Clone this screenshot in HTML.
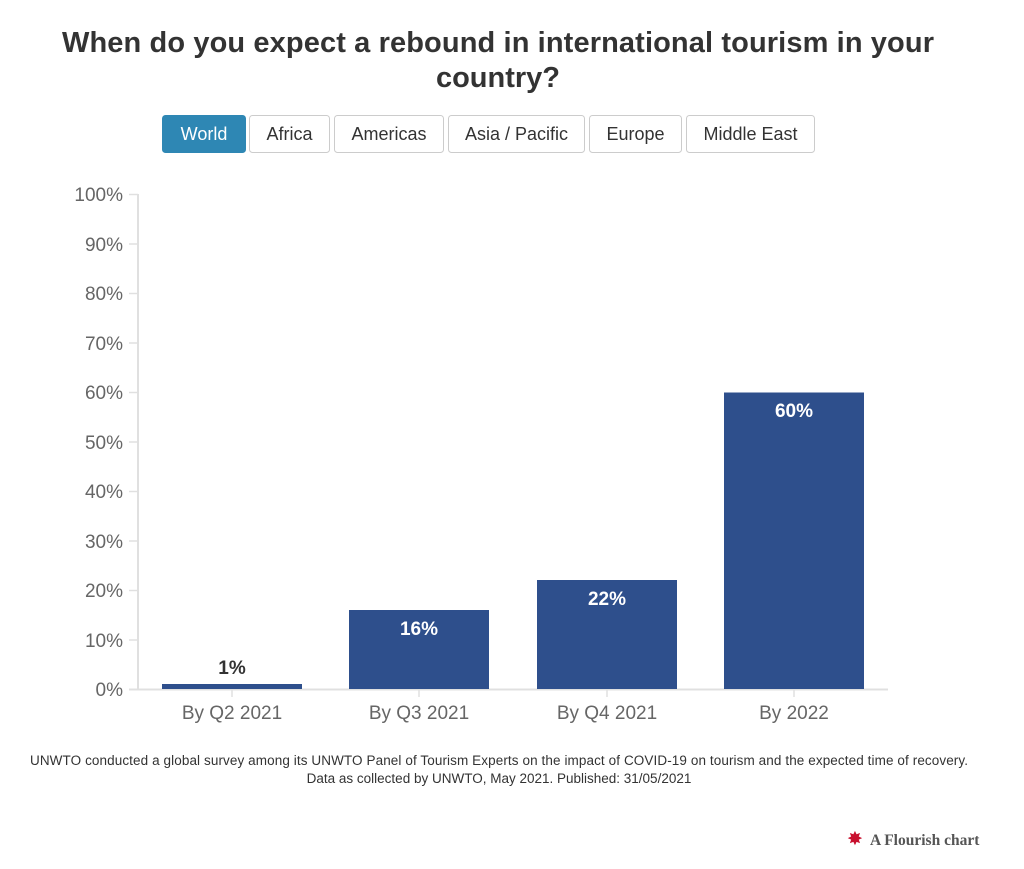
<!DOCTYPE html>
<html><head><style>
body{margin:0;background:#fff;width:1024px;height:864px;overflow:hidden;font-family:"Liberation Sans",sans-serif;}
</style></head><body>
<svg width="1024" height="864" xmlns="http://www.w3.org/2000/svg" font-family="Liberation Sans, sans-serif">
<text x="498" y="52" text-anchor="middle" font-size="29" font-weight="bold" fill="#333" textLength="872">When do you expect a rebound in international tourism in your</text>
<text x="498" y="87" text-anchor="middle" font-size="29" font-weight="bold" fill="#333">country?</text>
<g font-size="18" text-anchor="middle">
<rect x="162.5" y="115.5" width="83" height="37" rx="3" fill="#2e87b4" stroke="#2e87b4"/>
<text x="204" y="140" fill="#fff">World</text>
<rect x="249.5" y="115.5" width="80" height="37" rx="3" fill="#fff" stroke="#ccc"/>
<text x="289.5" y="140" fill="#333">Africa</text>
<rect x="334.5" y="115.5" width="109" height="37" rx="3" fill="#fff" stroke="#ccc"/>
<text x="389" y="140" fill="#333">Americas</text>
<rect x="448.5" y="115.5" width="136" height="37" rx="3" fill="#fff" stroke="#ccc"/>
<text x="516.5" y="140" fill="#333">Asia / Pacific</text>
<rect x="589.5" y="115.5" width="92" height="37" rx="3" fill="#fff" stroke="#ccc"/>
<text x="635.5" y="140" fill="#333">Europe</text>
<rect x="686.5" y="115.5" width="128" height="37" rx="3" fill="#fff" stroke="#ccc"/>
<text x="750.5" y="140" fill="#333">Middle East</text>
</g>
<line x1="138" y1="194" x2="138" y2="689" stroke="#e0e0e0" stroke-width="2"/>
<g stroke="#e0e0e0" stroke-width="1.5">
<line x1="129" y1="194.5" x2="138" y2="194.5"/><line x1="129" y1="244" x2="138" y2="244"/>
<line x1="129" y1="293.5" x2="138" y2="293.5"/><line x1="129" y1="343" x2="138" y2="343"/>
<line x1="129" y1="392.5" x2="138" y2="392.5"/><line x1="129" y1="442" x2="138" y2="442"/>
<line x1="129" y1="491.5" x2="138" y2="491.5"/><line x1="129" y1="541" x2="138" y2="541"/>
<line x1="129" y1="590.5" x2="138" y2="590.5"/><line x1="129" y1="640" x2="138" y2="640"/>
<line x1="232" y1="689" x2="232" y2="697"/><line x1="419" y1="689" x2="419" y2="697"/>
<line x1="607" y1="689" x2="607" y2="697"/><line x1="794" y1="689" x2="794" y2="697"/>
</g>
<line x1="129" y1="689.5" x2="888" y2="689.5" stroke="#e0e0e0" stroke-width="2"/>
<g font-size="19" fill="#666" text-anchor="end">
<text x="123" y="201">100%</text><text x="123" y="251">90%</text><text x="123" y="300">80%</text>
<text x="123" y="350">70%</text><text x="123" y="399">60%</text><text x="123" y="449">50%</text>
<text x="123" y="498">40%</text><text x="123" y="548">30%</text><text x="123" y="597">20%</text>
<text x="123" y="647">10%</text><text x="123" y="696">0%</text>
</g>
<g fill="#2e4f8c">
<rect x="162" y="684" width="140" height="5"/>
<rect x="349" y="610" width="140" height="79"/>
<rect x="537" y="580" width="140" height="109"/>
<rect x="724" y="392.5" width="140" height="296.5"/>
</g>
<g font-size="19" font-weight="bold" text-anchor="middle">
<text x="232" y="674" fill="#333">1%</text>
<text x="419" y="635" fill="#fff">16%</text>
<text x="607" y="605" fill="#fff">22%</text>
<text x="794" y="417" fill="#fff">60%</text>
</g>
<g font-size="19" fill="#666" text-anchor="middle">
<text x="232" y="719">By Q2 2021</text><text x="419" y="719">By Q3 2021</text>
<text x="607" y="719">By Q4 2021</text><text x="794" y="719">By 2022</text>
</g>
<g font-size="13.5" fill="#333" text-anchor="middle">
<text x="499" y="765" textLength="938">UNWTO conducted a global survey among its UNWTO Panel of Tourism Experts on the impact of COVID-19 on tourism and the expected time of recovery.</text>
<text x="499" y="783">Data as collected by UNWTO, May 2021. Published: 31/05/2021</text>
</g>
<text x="847" y="845" font-size="19" fill="#c8102e" font-family="DejaVu Sans, sans-serif">✸</text>
<text x="870" y="845" font-size="15.5" font-weight="bold" fill="#555" font-family="Liberation Serif, serif">A Flourish chart</text>
</svg>
</body></html>
